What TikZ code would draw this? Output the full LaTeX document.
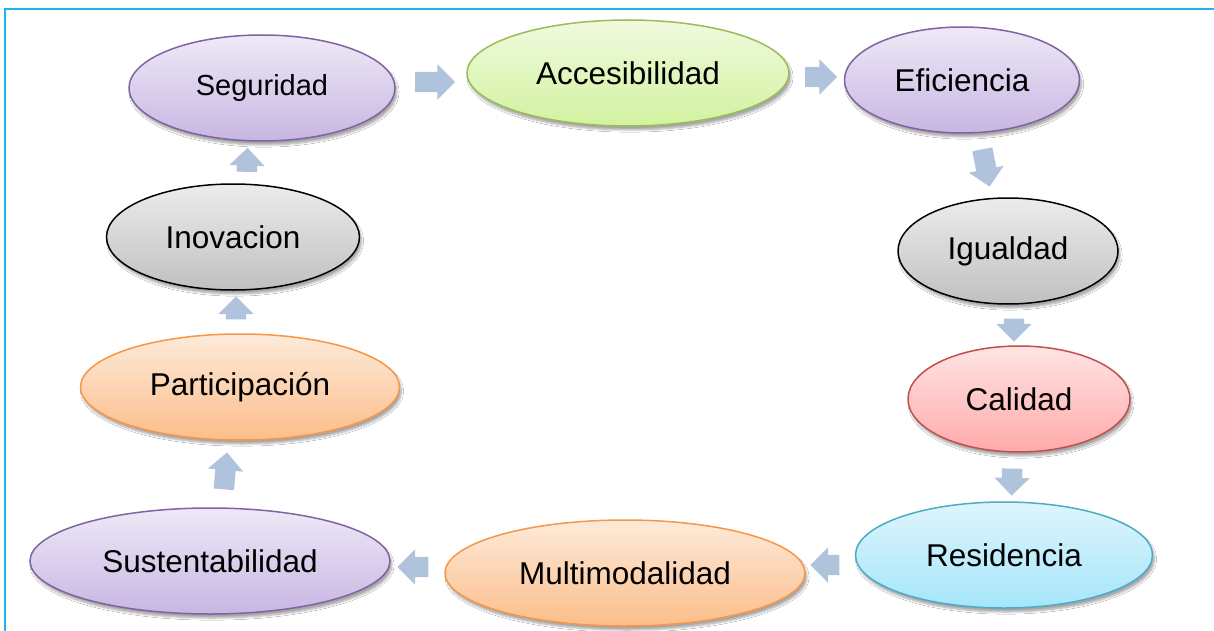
\documentclass[tikz,border=0pt]{standalone}
\usepackage{fontspec}
\setmainfont{Liberation Sans}
\usetikzlibrary{shapes.geometric,shapes.arrows,shadows.blur}
\definecolor{framecol}{RGB}{30,180,232}
\definecolor{arrcol}{RGB}{176,195,221}
\definecolor{purB}{RGB}{128,100,162}\definecolor{purT}{RGB}{238,233,247}\definecolor{purD}{RGB}{200,182,226}
\definecolor{grnB}{RGB}{155,187,89}\definecolor{grnT}{RGB}{240,250,222}\definecolor{grnD}{RGB}{210,242,160}
\definecolor{gryT}{RGB}{236,236,236}\definecolor{gryD}{RGB}{192,192,192}
\definecolor{redB}{RGB}{192,80,77}\definecolor{redT}{RGB}{255,228,228}\definecolor{redD}{RGB}{255,170,170}
\definecolor{cyaB}{RGB}{75,172,198}\definecolor{cyaT}{RGB}{222,245,252}\definecolor{cyaD}{RGB}{165,230,250}
\definecolor{orgB}{RGB}{247,150,70}\definecolor{orgT}{RGB}{253,234,218}\definecolor{orgD}{RGB}{252,190,138}
\tikzset{
  oval/.style={ellipse, inner sep=0pt, minimum height=106pt, line width=1.5pt,
    font=\fontsize{31.5}{36}\selectfont,
    blur shadow={shadow xshift=2pt, shadow yshift=-4pt, shadow blur steps=6, shadow opacity=35}},
  purple/.style={oval, draw=purB, top color=purT, bottom color=purD},
  green/.style={oval, draw=grnB, top color=grnT, bottom color=grnD},
  gray/.style={oval, draw=black, top color=gryT, bottom color=gryD},
  red/.style={oval, draw=redB, top color=redT, bottom color=redD},
  cyan/.style={oval, draw=cyaB, top color=cyaT, bottom color=cyaD},
  orange/.style={oval, draw=orgB, top color=orgT, bottom color=orgD},
  blockarrow/.style={single arrow, fill=arrcol, draw=none, inner xsep=0pt, inner ysep=10pt,
    single arrow head extend=7.5pt, single arrow head indent=0pt},
}
\begin{document}
\begin{tikzpicture}[x=1pt,y=-1pt]
\useasboundingbox (0,0) rectangle (1214,631);
\fill[white] (0,0) rectangle (1214,631);
\draw[framecol, line width=2pt] (5,631) -- (5,9) -- (1214,9);

\node[purple, minimum width=266pt, font=\fontsize{29}{34}\selectfont] (seg) at (262,88) {Seguridad};
\node[green, minimum width=322pt] (acc) at (628,73) {Accesibilidad};
\node[purple, minimum width=235pt] (efi) at (962,80) {Eficiencia};
\node[gray, minimum width=220pt] (igu) at (1008,251) {Igualdad};
\node[red, minimum width=222pt] (cal) at (1019,399) {Calidad};
\node[cyan, minimum width=297pt] (res) at (1004,555) {Residencia};
\node[orange, minimum width=360pt] (mul) at (625,573) {Multimodalidad};
\node[purple, minimum width=360pt] (sus) at (210,561) {Sustentabilidad};
\node[orange, minimum width=319pt] (par) at (240,387) {Participación};
\node[gray, minimum width=253pt] (ino) at (233,237) {Inovacion};

\node[blockarrow, minimum height=40pt, rotate=0] (a1) at (430,82) {};
\node[blockarrow, minimum height=32pt, rotate=0] (a2) at (816,77) {};
\node[blockarrow, minimum height=38pt, rotate=-79] (a3) at (985,163) {};
\node[blockarrow, minimum height=23pt, rotate=-90] (a4) at (1014,325) {};
\node[blockarrow, minimum height=27pt, rotate=-91] (a5) at (1012,477) {};
\node[blockarrow, minimum height=29pt, rotate=180] (a6) at (830,565) {};
\node[blockarrow, minimum height=31pt, rotate=180] (a7) at (418,567) {};
\node[blockarrow, minimum height=37pt, rotate=85] (a8) at (225,476) {};
\node[blockarrow, minimum height=23pt, rotate=90] (a9) at (236,313) {};
\node[blockarrow, minimum height=24pt, rotate=88] (a10) at (247,165) {};
\end{tikzpicture}
\end{document}
